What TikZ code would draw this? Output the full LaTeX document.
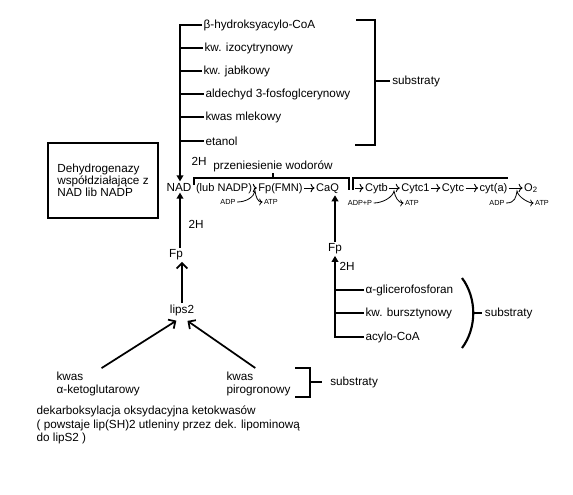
\documentclass[tikz,border=0pt]{standalone}
\usepackage{fontspec}
\setmainfont{Liberation Sans}
\usetikzlibrary{arrows.meta, positioning}
\newcommand{\phosfont}{\fontsize{5.5}{6}\selectfont}

\begin{document}
\begin{tikzpicture}[x=0.75pt, y=-0.75pt, font=\fontsize{8.8}{10}\selectfont,
      every node/.style={inner sep=1pt},
      lbl/.style={anchor=west},
      link/.style={text height=6.5pt, text depth=2pt, font=\fontsize{8.3}{10}\selectfont},
      trunk/.style={line width=1.5pt},
      fat/.style={line width=1.5pt, -{Triangle[length=4.5pt, width=5pt]}},
      open/.style={line width=1.3pt, -{Straight Barb[length=4pt, width=8pt]}},
      chain/.style={line width=0.7pt, -{To[length=3pt]}},
      phos/.style={line width=0.6pt, -{To[length=2.5pt]}},
      brk/.style={line width=1.6pt}]
    \fill[white] (0,0) rectangle (573,494);
    \useasboundingbox (0,0) rectangle (573,494);

    % substraty NAD
    \coordinate (top) at (180,25);
    \node[lbl] (s1) at (202,25) {β-hydroksyacylo-CoA};
    \node[lbl] (s2) at (203,48) {kw. izocytrynowy};
    \node[lbl] (s3) at (202,71) {kw. jabłkowy};
    \node[lbl] (s4) at (204,94) {aldechyd 3-fosfoglcerynowy};
    \node[lbl] (s5) at (204,117) {kwas mlekowy};
    \node[lbl] (s6) at (204,141) {etanol};
    \node (nad) at (179,187) {NAD};
    \draw[fat] (s1.west) -- (top) -- (nad.north -| top);
    \foreach \i in {2,...,6} \draw[trunk] (s\i.west) -- (s\i.west -| top);
    \draw[brk] (356,20) -| (375,145) -- (355,145);
    \coordinate (b1) at (375,81);
    \node[lbl, inner xsep=1.5pt] (sub1) at (390,81) {substraty};
    \draw[brk] (b1) -- (sub1.west);

    \node[draw, line width=1.5pt, minimum width=82.5pt, minimum height=56.25pt,
          align=left, font=\fontsize{8.8}{9}\selectfont] (dehyd) at (103,180.5)
          {Dehydrogenazy\\współdziałające z\\NAD lib NADP};
    \node (h2a) at (199,161) {2H};

    % lancuch oddechowy
    \node[link] (lub) at (224,188) {(lub NADP)};
    \node[link] (fmn) at (280.5,188) {Fp(FMN)};
    \node[link] (caq) at (327.5,188) {CaQ};
    \node[link] (cytb) at (376.5,188) {Cytb};
    \node[link] (cytc1) at (415.5,188) {Cytc1};
    \node[link] (cytc) at (453,188) {Cytc};
    \node[link] (cyta) at (493.5,188) {cyt(a)};
    \node[link] (o2) at (531,188) {O\textsubscript{2}};
    \draw[chain] (lub) -- (fmn);
    \draw[chain] (fmn) -- (caq);
    \draw[chain, shorten <=11pt] (caq) -- (cytb);
    \draw[chain] (cytb) -- (cytc1);
    \draw[chain] (cytc1) -- (cytc);
    \draw[chain] (cytc) -- (cyta);
    \draw[chain] (cyta) -- (o2);
    \coordinate (hb) at (194,178);
    \draw[line width=1.2pt] (194,185) |- (349,178) -- (349,190);
    \draw[line width=1.2pt] (353,190) |- (508,178);
    \node (xfer) at (273,166) {przeniesienie wodorów};
    \draw[line width=1.2pt] (xfer.south) -- (xfer.south |- hb);

    % fosforylacja
    \node[font=\phosfont] (adp1) at (228,202) {ADP};
    \node[font=\phosfont] (atp1) at (271,202) {ATP};
    \node[font=\phosfont] (adp2) at (360,203) {ADP+P};
    \node[font=\phosfont] (atp2) at (412,203) {ATP};
    \node[font=\phosfont] (adp3) at (497,203) {ADP};
    \node[font=\phosfont] (atp3) at (542,203) {ATP};
    \coordinate (pk1) at (255,191);
    \coordinate (pk2) at (394,191);
    \coordinate (pk3) at (517,191);
    \foreach \i in {1,2,3}
      \draw[phos] (adp\i.east) .. controls +(9,0) and +(-1,6) .. (pk\i)
                  .. controls +(1,6) and +(-5,0) .. (atp\i.west);

    % substraty Fp
    \node (fp2) at (335,249) {Fp};
    \node[lbl] (r1) at (364,290) {α-glicerofosforan};
    \node[lbl] (r2) at (364,313) {kw. bursztynowy};
    \node[lbl] (r3) at (364,337) {acylo-CoA};
    \draw[fat] (r3.west) -| (fp2.south);
    \foreach \i in {1,2} \draw[trunk] (r\i.west) -- (r\i.west -| fp2.south);
    \draw[fat] (fp2.north) -- (fp2.north |- caq.south);
    \node[lbl] (h2c) at (338,266) {2H};
    \draw[brk] (462,278) .. controls (477,298) and (477,328) .. (462,348);
    \coordinate (b2) at (473,313);
    \node[lbl, inner xsep=2pt] (sub2) at (482,313) {substraty};
    \draw[brk] (b2) -- (sub2.west);

    % ketokwasy
    \node (fp1) at (176,255) {Fp};
    \draw[fat] (fp1.north -| top) -- (nad.south -| top);
    \node[lbl] (h2b) at (187,224) {2H};
    \node (lips) at (182,310) {lips2};
    \draw[open] (lips.north) -- (lips.north |- fp1.south);
    \node[lbl, align=left] (k1) at (55,384) {kwas\\α-ketoglutarowy};
    \node[lbl, align=left] (k2) at (225,384) {kwas\\pirogronowy};
    \draw[open, shorten <=3pt, shorten >=5pt] (k1.north) -- (lips.south);
    \draw[open, shorten <=3pt, shorten >=5pt] (k2.north) -- (lips.south);
    \draw[brk] (295,368) -| (310,397) -- (295,397);
    \coordinate (b3) at (310,382);
    \node[lbl, inner xsep=6pt] (sub3) at (322,382) {substraty};
    \draw[brk] (b3) -- (sub3.west);
    \node[lbl, align=left] (note) at (35,425)
      {dekarboksylacja oksydacyjna ketokwasów\\( powstaje lip(SH)2 utleniny przez dek. lipominową\\do lipS2 )};
  \end{tikzpicture}
\end{document}
